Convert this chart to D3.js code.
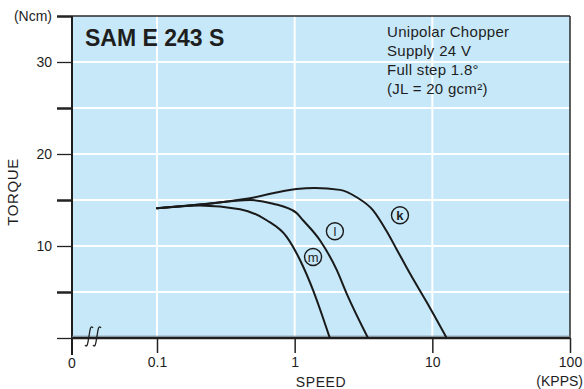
<!DOCTYPE html>
<html>
<head>
<meta charset="utf-8">
<script src="https://cdn.jsdelivr.net/npm/d3@7/dist/d3.min.js"></script>
<style>
  html, body { margin: 0; padding: 0; background: #ffffff; }
  svg { display: block; }
  text { font-family: "Liberation Sans", Arial, Helvetica, sans-serif; fill: #1e1e1e; }
</style>
</head>
<body>
<svg id="chart" width="584" height="389"></svg>
<script>
// ---- data ----
const speedK  = [0.1, 0.205, 0.473, 1.03, 1.40, 2.13, 2.82, 3.70, 4.66, 5.50, 6.88, 9.09, 12.7];
const torqueK = [14.1, 14.5, 15.2, 16.2, 16.3, 16.1, 15.3, 13.9, 11.6, 9.65, 7.0, 3.9, 0];

const speedL  = [0.1, 0.205, 0.473, 0.697, 1.03, 1.15, 1.53, 2.02, 2.39, 3.41];
const torqueL = [14.1, 14.5, 15.0, 14.6, 13.6, 12.8, 10.6, 7.4, 4.8, 0];

const speedM  = [0.1, 0.205, 0.401, 0.626, 0.875, 1.10, 1.36, 1.58, 1.80];
const torqueM = [14.1, 14.4, 14.0, 12.8, 11.0, 8.4, 5.2, 2.5, 0];

const curveNames   = ["k", "l", "m"];
const labelSpeed   = [5.82, 1.96, 1.36];
const labelTorque  = [13.35, 11.6, 8.8];

const xTickValues  = [0.1, 1, 10, 100];
const xTickLabels  = ["0.1", "1", "10", "100"];
const yTickValues  = [0, 5, 10, 15, 20, 25, 30, 35];
const yTickLabels  = {10: "10", 20: "20", 30: "30", 35: "(Ncm)"};
const yGridValues  = [5, 10, 15, 20, 25, 30];
const xGridValues  = [0.1, 1, 10];

const titleText = "SAM E 243 S";
const noteLines = ["Unipolar Chopper", "Supply 24 V", "Full step 1.8°", "(JL = 20 gcm²)"];

// ---- layout ----
const svg = d3.select("#chart");
const plotLeft = 72, plotRight = 570, plotTop = 16, plotBottom = 338;
const zeroGap = 85; // space between the "0" origin and the 0.1 decade (axis break)

const x = d3.scaleLog().domain([0.1, 100]).range([plotLeft + zeroGap, plotRight]);
const y = d3.scaleLinear().domain([0, 35]).range([plotBottom, plotTop]);

// background
svg.append("rect")
  .attr("x", plotLeft).attr("y", plotTop)
  .attr("width", plotRight - plotLeft).attr("height", plotBottom - plotTop)
  .attr("fill", "#c6e8f9");

// grid
svg.append("g").selectAll("line").data(yGridValues).join("line")
  .attr("x1", plotLeft).attr("x2", plotRight)
  .attr("y1", d => y(d)).attr("y2", d => y(d))
  .attr("stroke", "#ffffff").attr("stroke-width", 2);
svg.append("g").selectAll("line").data(xGridValues).join("line")
  .attr("x1", d => x(d)).attr("x2", d => x(d))
  .attr("y1", plotTop).attr("y2", plotBottom)
  .attr("stroke", "#ffffff").attr("stroke-width", 2);

// frame top/right
svg.append("line").attr("x1", plotLeft).attr("x2", plotRight)
  .attr("y1", plotTop).attr("y2", plotTop)
  .attr("stroke", "#2a2a2a").attr("stroke-width", 1.5);
svg.append("line").attr("x1", plotRight).attr("x2", plotRight)
  .attr("y1", plotTop).attr("y2", plotBottom)
  .attr("stroke", "#2a2a2a").attr("stroke-width", 1.5);

// y axis
const yAxis = d3.axisLeft(y).tickValues(yTickValues).tickSize(15).tickPadding(5)
  .tickFormat(d => yTickLabels[d] || "");
const gy = svg.append("g").attr("transform", `translate(${plotLeft},0)`).call(yAxis);
gy.select(".domain").remove();
gy.selectAll(".tick line").attr("stroke", "#222").attr("stroke-width", (d) => (d % 10 === 5 ? 2.5 : 1.3));
gy.selectAll(".tick text").attr("font-size", 14).attr("fill", "#1e1e1e")
  .attr("font-family", "'Liberation Sans', Arial, sans-serif");

// x axis
const xAxis = d3.axisBottom(x).tickValues(xTickValues).tickSize(15).tickPadding(4)
  .tickFormat((d, i) => xTickLabels[i]);
const gx = svg.append("g").attr("transform", `translate(0,${plotBottom})`).call(xAxis);
gx.select(".domain").remove();
gx.selectAll(".tick line").attr("stroke", "#222").attr("stroke-width", 1.5);
gx.selectAll(".tick text").attr("font-size", 14).attr("fill", "#1e1e1e")
  .attr("font-family", "'Liberation Sans', Arial, sans-serif");

// left axis line (extends below as the "0" tick)
svg.append("line").attr("x1", plotLeft).attr("x2", plotLeft)
  .attr("y1", plotTop).attr("y2", plotBottom + 17)
  .attr("stroke", "#1e1e1e").attr("stroke-width", 2);
// bottom axis line
svg.append("line").attr("x1", plotLeft).attr("x2", plotRight)
  .attr("y1", plotBottom).attr("y2", plotBottom)
  .attr("stroke", "#1e1e1e").attr("stroke-width", 2.5);
svg.append("line").attr("x1", plotLeft).attr("x2", plotRight)
  .attr("y1", plotBottom - 1.8).attr("y2", plotBottom - 1.8)
  .attr("stroke", "#7f8c94").attr("stroke-width", 1);

// origin "0"
svg.append("text").attr("x", plotLeft).attr("y", plotBottom + 30)
  .attr("text-anchor", "middle").attr("font-size", 14).text("0");

// axis break marks
[plotLeft + 17, plotLeft + 25].forEach(bx => {
  const by = plotBottom;
  svg.append("path")
    .attr("d", `M${bx - 4},${by + 7} Q${bx - 2},${by + 10} ${bx - 1},${by + 4} L${bx + 1},${by - 8} Q${bx + 2},${by - 13} ${bx + 4},${by - 10}`)
    .attr("fill", "none").attr("stroke", "#1e1e1e").attr("stroke-width", 1.3);
});

// axis titles
svg.append("text").attr("transform", `translate(18,192) rotate(-90)`)
  .attr("text-anchor", "middle").attr("font-size", 15).attr("letter-spacing", 0.6).text("TORQUE");
svg.append("text").attr("x", 321).attr("y", 387)
  .attr("text-anchor", "middle").attr("font-size", 14).attr("letter-spacing", 0.6).text("SPEED");
svg.append("text").attr("x", 583).attr("y", 386)
  .attr("text-anchor", "end").attr("font-size", 14).text("(KPPS)");

// title & notes
svg.append("text").attr("x", 85).attr("y", 46)
  .attr("font-size", 23).attr("font-weight", "bold").text(titleText);
svg.append("g").selectAll("text").data(noteLines).join("text")
  .attr("x", 387).attr("y", (d, i) => 37 + i * 19)
  .attr("font-size", 15).attr("letter-spacing", 0.3).text(d => d);

// curves
const series = [
  speedK.map((s, i) => [s, torqueK[i]]),
  speedL.map((s, i) => [s, torqueL[i]]),
  speedM.map((s, i) => [s, torqueM[i]])
];
const line = d3.line().x(d => x(d[0])).y(d => y(d[1])).curve(d3.curveMonotoneX);
svg.append("g").selectAll("path").data(series).join("path")
  .attr("d", line).attr("fill", "none")
  .attr("stroke", "#1a1a1a").attr("stroke-width", 2).attr("stroke-linecap", "round");

// circled labels
const lbl = svg.append("g").selectAll("g").data(curveNames).join("g")
  .attr("transform", (d, i) => `translate(${x(labelSpeed[i])},${y(labelTorque[i])})`);
lbl.append("circle").attr("r", 8.5).attr("fill", "none")
  .attr("stroke", "#1a1a1a").attr("stroke-width", 1.4);
lbl.append("text").attr("text-anchor", "middle").attr("y", 4.5)
  .attr("font-size", 13).attr("font-weight", d => d === "k" ? "bold" : "normal").text(d => d);
</script>
</body>
</html>
